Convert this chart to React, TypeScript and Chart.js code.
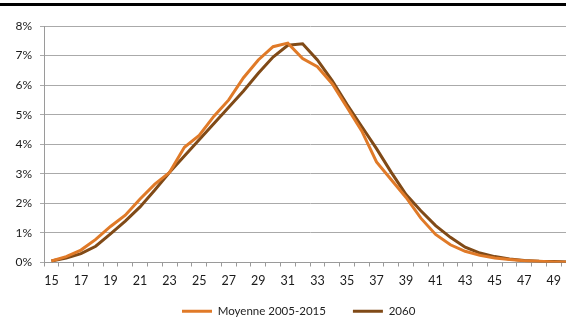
import React, { useEffect, useRef } from "react";
import { Chart, registerables } from "chart.js";

Chart.register(...registerables);

const ages: string[] = [
  "15", "16", "17", "18", "19", "20", "21", "22", "23", "24", "25", "26",
  "27", "28", "29", "30", "31", "32", "33", "34", "35", "36", "37", "38",
  "39", "40", "41", "42", "43", "44", "45", "46", "47", "48", "49", "50",
];

const moyenne: number[] = [
  0.05, 0.2, 0.42, 0.78, 1.22, 1.6, 2.15, 2.65, 3.05, 3.9, 4.3, 4.95,
  5.5, 6.25, 6.85, 7.3, 7.42, 6.9, 6.62, 6.05, 5.25, 4.45, 3.4, 2.8,
  2.2, 1.5, 0.95, 0.6, 0.38, 0.24, 0.15, 0.1, 0.06, 0.04, 0.02, 0.01,
];

const proj2060: number[] = [
  0.05, 0.15, 0.3, 0.55, 0.97, 1.4, 1.88, 2.45, 3.05, 3.6, 4.15, 4.7,
  5.25, 5.8, 6.4, 6.95, 7.35, 7.4, 6.85, 6.15, 5.35, 4.6, 3.85, 3.05,
  2.3, 1.75, 1.25, 0.85, 0.52, 0.32, 0.2, 0.12, 0.07, 0.04, 0.03, 0.02,
];

const seriesNames: string[] = ["Moyenne 2005-2015", "2060"];

const LEGEND_START_X = 182;
const LEGEND_DY = -12;

const legendShift = {
  id: "legendShift",
  afterLayout(chart: any) {
    const lg = chart.legend;
    if (!lg || !lg.lineWidths) return;
    const pad = lg.options.labels.padding;
    const start = (lg.left + pad + lg.right - lg.lineWidths[0]) / 2;
    const dx = LEGEND_START_X - start;
    lg.left += dx;
    lg.right += dx;
    lg.top += LEGEND_DY;
    lg.bottom += LEGEND_DY;
  },
};

export default function App() {
  const ref = useRef<HTMLCanvasElement | null>(null);

  useEffect(() => {
    document.body.style.margin = "0";
    const canvas = ref.current;
    if (!canvas) return;
    const chart = new Chart(canvas, {
      type: "line",
      data: {
        labels: ages,
        datasets: [
          {
            label: seriesNames[0],
            data: moyenne,
            borderColor: "#E07A28",
            backgroundColor: "#E07A28",
            borderWidth: 3,
            pointRadius: 0,
            tension: 0,
          },
          {
            label: seriesNames[1],
            data: proj2060,
            borderColor: "#804A17",
            backgroundColor: "#804A17",
            borderWidth: 3,
            pointRadius: 0,
            tension: 0,
          },
        ],
      },
      options: {
        animation: false,
        responsive: false,
        maintainAspectRatio: false,
        layout: { padding: { top: 26, left: 0, right: 14, bottom: 0 } },
        plugins: {
          tooltip: { enabled: false },
          legend: {
            position: "bottom",
            labels: {
              usePointStyle: true,
              pointStyle: "line",
              pointStyleWidth: 30,
              padding: 27,
              color: "#222",
              font: { family: "Lato", size: 11.5 },
            },
          },
        },
        scales: {
          x: {
            offset: true,
            afterFit: (scale: any) => {
              scale.height = 28;
            },
            grid: {
              offset: true,
              drawOnChartArea: false,
              drawTicks: true,
              tickLength: 4,
              color: "#9a9a9a",
            },
            border: { color: "#9a9a9a", width: 1 },
            ticks: {
              autoSkip: false,
              maxRotation: 0,
              padding: 7,
              color: "#1a1a1a",
              font: { family: "Lato", size: 12.5 },
              callback: (_v: any, i: number) => (i % 2 === 0 && i < 35 ? ages[i] : ""),
            },
          },
          y: {
            min: 0,
            max: 8,
            afterFit: (scale: any) => {
              scale.width = 44;
            },
            grid: {
              color: "#aaaaaa",
              tickLength: 4,
              drawTicks: true,
            },
            border: { color: "#9a9a9a", width: 1 },
            ticks: {
              stepSize: 1,
              padding: 8,
              color: "#1a1a1a",
              font: { family: "Lato", size: 12 },
              callback: (v: any) => v + "%",
            },
          },
        },
      },
      plugins: [legendShift],
    });
    return () => chart.destroy();
  }, []);

  return (
    <div style={{ position: "relative", width: 566, height: 318, overflow: "hidden", background: "#fff" }}>
      <div style={{ position: "absolute", left: 0, top: 3, width: 566, height: 3, background: "#000" }} />
      <canvas ref={ref} width={590} height={339} style={{ position: "absolute", left: 0, top: 0 }} />
    </div>
  );
}
